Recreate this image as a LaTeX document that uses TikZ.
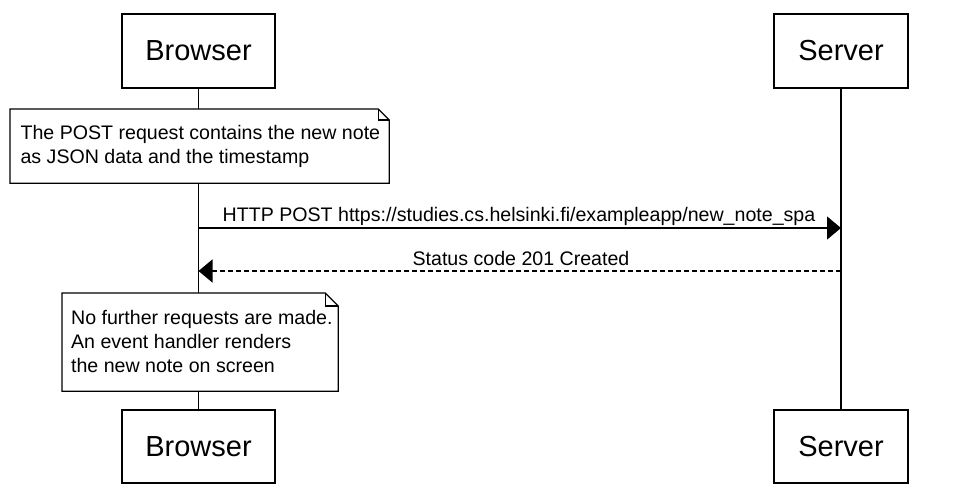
\documentclass[tikz,border=0pt]{standalone}
\usepackage{fontspec}
\setmainfont{Liberation Sans}
\usetikzlibrary{arrows.meta}
\begin{document}
\begin{tikzpicture}[x=1pt,y=-1pt,
  line width=1.2pt,
  actor/.style={draw, fill=white, inner sep=0pt, font=\fontsize{29}{34}\selectfont},
  notebox/.style={inner sep=0pt, anchor=north west},
  notetext/.style={inner sep=0pt, anchor=north west, align=left, font=\fontsize{19.6}{23.8}\selectfont},
  msglabel/.style={inner sep=0pt, anchor=base, font=\fontsize{19.6}{23.8}\selectfont},
  lifeline/.style={line width=1.2pt},
  msg/.style={line width=1.2pt, -{Triangle[length=14pt,width=23pt]}},
  reply/.style={msg, dash pattern=on 5pt off 3pt}
]
\useasboundingbox[fill=white] (0,0) rectangle (959,497);

% actors
\node[actor, minimum width=153pt, minimum height=74pt] (btop) at (198.5,51) {Browser};
\node[actor, minimum width=134pt, minimum height=74pt] (stop) at (841,51) {Server};
\node[actor, minimum width=153pt, minimum height=73pt] (bbot) at (198.5,446.5) {Browser};
\node[actor, minimum width=134pt, minimum height=73pt] (sbot) at (841,446.5) {Server};

% lifelines
\draw[lifeline] (btop.south) -- (bbot.north);
\draw[lifeline] (stop.south) -- (sbot.north);

% note 1
\node[notebox, minimum width=378pt, minimum height=73pt] (n1) at (10,109) {};
\draw[fill=white] (n1.south west) -- (n1.north west) -- ([xshift=-11pt]n1.north east)
  -- ([yshift=-11pt]n1.north east) -- (n1.south east) -- cycle;
\draw ([xshift=-11pt]n1.north east) -- ([xshift=-11pt,yshift=-11pt]n1.north east) -- ([yshift=-11pt]n1.north east);
\node[notetext] (n1t) at (20,125) {The POST request contains the new note\\as JSON data and the timestamp};

% messages
\coordinate (b1) at (198.5,228);
\coordinate (s1) at (841,228);
\coordinate (b2) at (198.5,271);
\coordinate (s2) at (841,271);
\draw[msg] (b1) -- (s1);
\node[msglabel] (l1) at (519,222) {HTTP POST https://studies.cs.helsinki.fi/exampleapp/new\_note\_spa};
\draw[reply] (s2) -- (b2);
\node[msglabel] (l2) at (521,266) {Status code 201 Created};

% note 2
\node[notebox, minimum width=275pt, minimum height=97pt] (n2) at (62,293) {};
\draw[fill=white] (n2.south west) -- (n2.north west) -- ([xshift=-13pt]n2.north east)
  -- ([yshift=-13pt]n2.north east) -- (n2.south east) -- cycle;
\draw ([xshift=-13pt]n2.north east) -- ([xshift=-13pt,yshift=-13pt]n2.north east) -- ([yshift=-13pt]n2.north east);
\node[notetext] (n2t) at (70.5,310) {No further requests are made.\\An event handler renders\\the new note on screen};
\end{tikzpicture}
\end{document}
